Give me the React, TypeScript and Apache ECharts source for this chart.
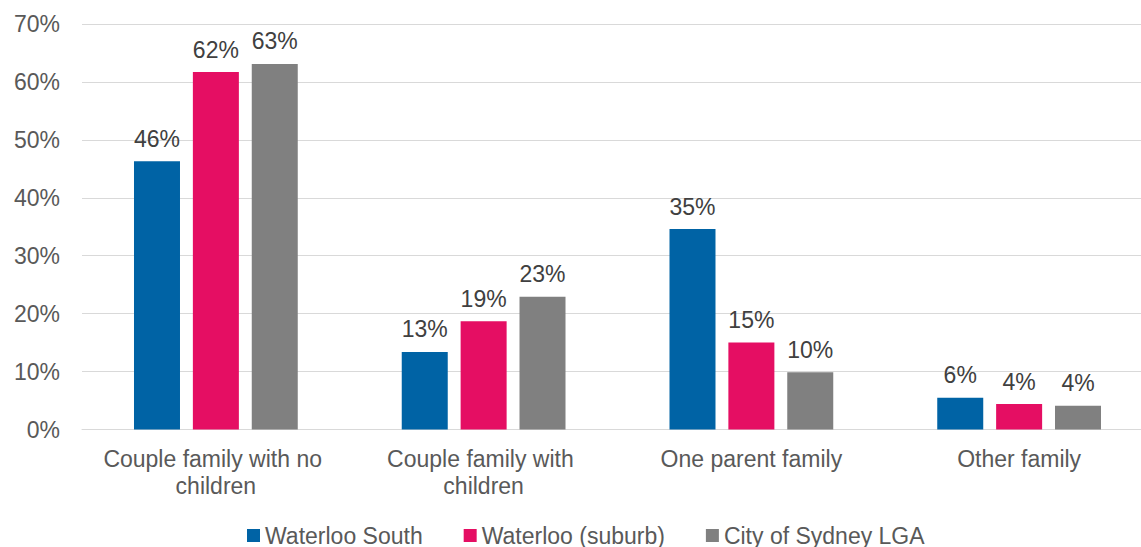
import React, { useEffect, useRef } from "react";
import * as echarts from "echarts";

const categories = [
  "Couple family with no children",
  "Couple family with children",
  "One parent family",
  "Other family",
];
const seriesNames = ["Waterloo South", "Waterloo (suburb)", "City of Sydney LGA"];
const waterlooSouth = [46.3, 13.4, 34.6, 5.5];
const waterlooSuburb = [61.7, 18.7, 15.0, 4.4];
const citySydney = [63.1, 22.9, 9.9, 4.1];
const colors = ["#0063A5", "#E50E63", "#808080"];

const FONT = "'Liberation Sans', Arial, sans-serif";

export default function App() {
  const ref = useRef<HTMLDivElement>(null);
  useEffect(() => {
    document.body.style.margin = "0";
    if (!ref.current) return;
    const chart = echarts.init(ref.current, undefined, { renderer: "svg" });
    const data = [waterlooSouth, waterlooSuburb, citySydney];
    chart.setOption({
      animation: false,
      textStyle: { fontFamily: FONT },
      grid: {
        left: 82,
        width: 1071,
        top: 24,
        height: 405.5,
        containLabel: false,
        outerBoundsMode: "none",
      },
      legend: {
        left: 242,
        top: 519,
        itemWidth: 13,
        itemHeight: 13,
        itemGap: 41,
        icon: "rect",
        textStyle: { fontSize: 23, color: "#595959", fontFamily: FONT },
        data: seriesNames,
      },
      xAxis: {
        type: "category",
        data: categories,
        axisTick: { show: false },
        axisLine: { lineStyle: { color: "#D9D9D9", width: 1 } },
        axisLabel: {
          fontSize: 23,
          color: "#595959",
          margin: 16,
          lineHeight: 27,
          width: 235,
          overflow: "break",
          interval: 0,
          fontFamily: FONT,
        },
      },
      yAxis: {
        type: "value",
        min: 0,
        max: 70,
        interval: 10,
        axisLine: { show: false },
        axisTick: { show: false },
        splitLine: { lineStyle: { color: "#D9D9D9", width: 1 } },
        axisLabel: {
          fontSize: 23,
          color: "#595959",
          margin: 22,
          formatter: "{value}%",
          fontFamily: FONT,
        },
      },
      series: seriesNames.map((name, i) => ({
        name,
        type: "bar",
        data: data[i],
        barWidth: 46,
        barGap: "28%",
        itemStyle: { color: colors[i] },
        label: {
          show: true,
          position: "top",
          distance: 11,
          fontSize: 23,
          color: "#404040",
          fontFamily: FONT,
          formatter: (p: any) => Math.round(p.value) + "%",
        },
      })),
    });
    return () => chart.dispose();
  }, []);
  return <div ref={ref} style={{ width: 1141, height: 547 }} />;
}
